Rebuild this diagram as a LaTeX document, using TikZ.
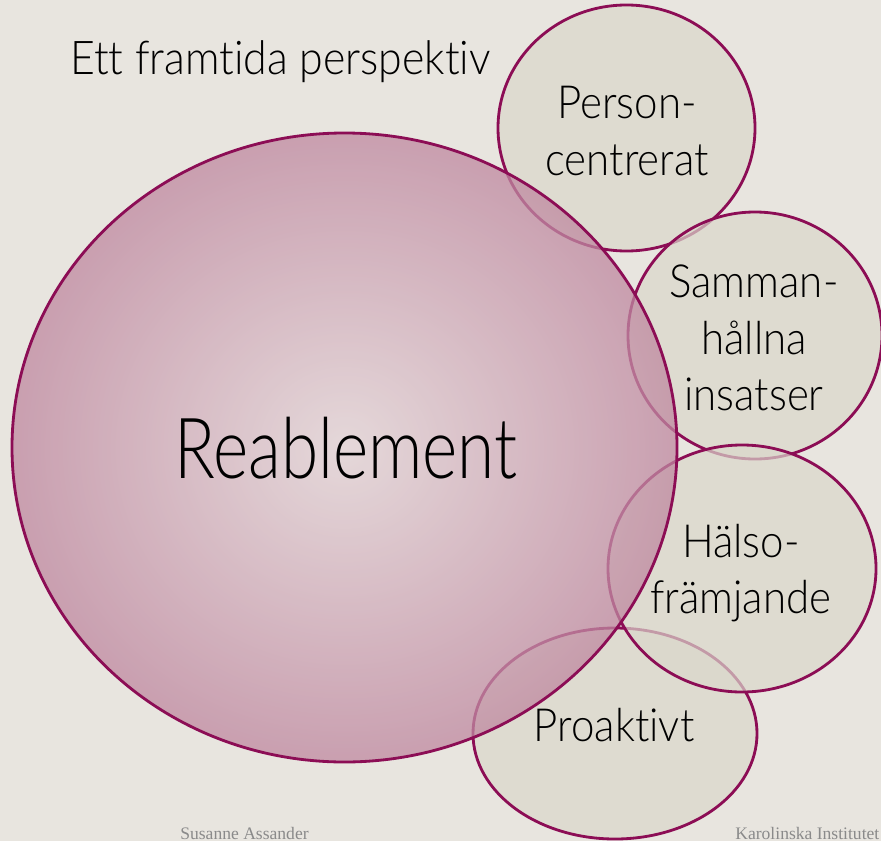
\documentclass[tikz,border=0pt]{standalone}
\usepackage{fontspec}
\setmainfont{Lato Light}[FakeStretch=0.92, Ligatures=NoCommon]
\newfontfamily\bigfont{Lato Light}[FakeStretch=0.8, Ligatures=NoCommon]
\newfontfamily\footfont{Liberation Serif}
\definecolor{bgpaper}{HTML}{E8E5DF}
\definecolor{rimred}{HTML}{8C0D55}
\definecolor{discfill}{HTML}{DBD7CB}
\definecolor{pinkin}{HTML}{E4D4D8}
\definecolor{pinkout}{HTML}{BF88A0}
\definecolor{footgray}{HTML}{8A8A8A}
\tikzset{
  disc/.style={fill=discfill, fill opacity=0.7, draw=rimred, line width=1.6pt},
  disctext/.style={font=\fontsize{26}{32}\selectfont, align=center, text=black},
  foottext/.style={font=\footfont\fontsize{10}{12}\selectfont, text=footgray, anchor=base west, inner sep=0pt},
}
\begin{document}
\begin{tikzpicture}[x=0.02cm,y=-0.02cm]
        \fill[bgpaper] (0,0) rectangle (881,841);
        \useasboundingbox (0,0) rectangle (881,841);
        % small discs, back to front
        \draw[disc] (615,733.5) ellipse [x radius=142, y radius=105.5];
        \draw[disc] (626.5,128) ellipse [x radius=128.5, y radius=123];
        \draw[disc] (755,335.5) ellipse [x radius=127, y radius=123.5];
        \draw[disc] (742,568.5) ellipse [x radius=134, y radius=123.5];
        % big disc on top
        \shade[inner color=pinkin, outer color=pinkout, fill opacity=0.75] (344.5,447.5) ellipse [x radius=332.5, y radius=314.5];
        \draw[rimred, line width=1.6pt] (344.5,447.5) ellipse [x radius=332.5, y radius=314.5];
        \node (title) [anchor=base west, inner sep=0pt, font=\fontsize{26.5}{32}\selectfont] at (70,75) {Ett framtida perspektiv};
        \node (reable) [font=\bigfont\fontsize{48}{56}\selectfont, inner sep=0pt, anchor=base] at (346,478) {Reablement};
        \node (person) [disctext] at (627,131) {Person-\\centrerat};
        \node (samman) [disctext] at (754,338) {Samman-\\hållna\\insatser};
        \node (halso) [disctext] at (741,573) {Hälso-\\främjande};
        \node (proaktiv) [disctext] at (614,725) {Proaktivt};
        \node (footleft) [foottext] at (180,839) {Susanne Assander};
        \node (footright) [foottext] at (735,839) {Karolinska Institutet};
\end{tikzpicture}
\end{document}
